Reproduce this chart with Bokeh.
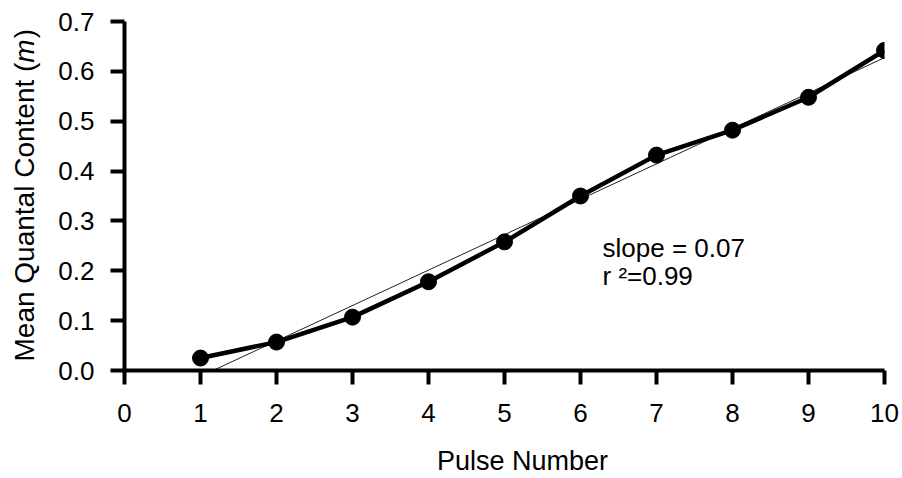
import numpy as np
from math import pi
from bokeh.plotting import figure
from bokeh.layouts import row, column
from bokeh.models import Range1d, FixedTicker, Label, ColumnDataSource
from bokeh.core.properties import value
from bokeh.embed import file_html
from bokeh.resources import INLINE

# ---- data ----
pulse_number = [1, 2, 3, 4, 5, 6, 7, 8, 9, 10]
mean_quantal = [0.025, 0.057, 0.107, 0.178, 0.258, 0.350, 0.432, 0.482, 0.548, 0.642]
x_ticks = [0, 1, 2, 3, 4, 5, 6, 7, 8, 9, 10]
y_ticks = [0.0, 0.1, 0.2, 0.3, 0.4, 0.5, 0.6, 0.7]
y_tick_labels = ["0.0", "0.1", "0.2", "0.3", "0.4", "0.5", "0.6", "0.7"]
x_title = "Pulse Number"
y_title_parts = ["Mean Quantal Content (", "m", ")"]
slope_text = "slope = 0.07"
r2_text = "r \u00b2=0.99"

FONT = "Liberation Sans"

# ---- layout (pixels) ----
LW = 46                       # width of left label strip
FW, FH = 760, 349             # frame size
ML, MR, MT, MB = 124 - LW, 16, 21, 75
MAIN_W = ML + FW + MR
MAIN_H = MT + FH + MB
BOT_H = 30
TOTAL_W = LW + MAIN_W
TOTAL_H = MAIN_H + BOT_H

p = figure(title=None, width=MAIN_W, height=MAIN_H,
           frame_width=FW, frame_height=FH,
           min_border_left=ML, min_border_right=MR, min_border_top=MT, min_border_bottom=MB,
           x_range=Range1d(0, 10), y_range=Range1d(0, 0.7),
           output_backend="svg", toolbar_location=None)
p.outline_line_color = None
p.xgrid.visible = False
p.ygrid.visible = False

for ax in (p.xaxis[0], p.yaxis[0]):
    ax.axis_line_width = 4
    ax.axis_line_color = "black"
    ax.major_tick_line_width = 4
    ax.major_tick_line_color = "black"
    ax.major_tick_out = 14
    ax.major_tick_in = 0
    ax.minor_tick_line_color = None
    ax.major_label_text_font = FONT
    ax.major_label_text_font_size = "26px"
    ax.major_label_text_color = "black"

p.xaxis.ticker = FixedTicker(ticks=x_ticks)
p.yaxis.ticker = FixedTicker(ticks=y_ticks)
p.yaxis.major_label_overrides = {t: l for t, l in zip(y_ticks, y_tick_labels)}
p.xaxis.major_label_standoff = 19
p.yaxis.major_label_standoff = 16

# regression line
slope, intercept = np.polyfit(pulse_number, mean_quantal, 1)
x0 = -intercept / slope
x1 = max(pulse_number)
p.line([x0, x1], [slope * x0 + intercept, slope * x1 + intercept],
       line_color="#222222", line_width=1)

# data
src = ColumnDataSource(dict(x=pulse_number, y=mean_quantal))
p.line("x", "y", source=src, line_color="black", line_width=4.5)
p.scatter("x", "y", source=src, size=16, marker="circle",
          fill_color="black", line_color="black")

# page pixel -> data helpers for the annotation positions
def dx(px):
    return (px - 124) * 10 / FW

def dy(py):
    return (MT + FH - py) * 0.7 / FH

p.add_layout(Label(x=dx(602), y=dy(247), text=slope_text, text_font=FONT,
                   text_font_size="26px", text_baseline="alphabetic", text_align="left",
                   text_color="black"))
p.add_layout(Label(x=dx(602), y=dy(275), text=r2_text, text_font=FONT,
                   text_font_size="26px", text_baseline="alphabetic", text_align="left",
                   text_color="black"))

# ---- left strip with rotated y title ----
pl = figure(title=None, width=LW, height=MAIN_H, frame_width=LW, frame_height=MAIN_H,
            x_range=Range1d(0, LW), y_range=Range1d(0, MAIN_H),
            x_axis_location=None, y_axis_location=None,
            min_border=0, output_backend="svg", toolbar_location=None)
pl.grid.visible = False
pl.outline_line_color = None

fs = 28
w1 = 10.672 * fs
wm = 0.833 * fs
ybot = 362 - 22   # compensates the observed downward shift of rotated text
ypos = [MAIN_H - ybot, MAIN_H - (ybot - w1), MAIN_H - (ybot - w1 - wm - 1)]
styles = ["normal", "italic", "normal"]
for part, yy, st in zip(y_title_parts, ypos, styles):
    pl.text(x=[24], y=[yy], text=[part], angle=pi / 2,
            text_align="left", text_baseline="middle",
            text_font=value(FONT), text_font_size=value(f"{fs}px"),
            text_font_style=value(st), text_color="black")

# ---- bottom strip with x title ----
pb = figure(title=None, width=TOTAL_W, height=BOT_H, frame_width=TOTAL_W, frame_height=BOT_H,
            x_range=Range1d(0, TOTAL_W), y_range=Range1d(0, BOT_H),
            x_axis_location=None, y_axis_location=None,
            min_border=0, output_backend="svg", toolbar_location=None)
pb.grid.visible = False
pb.outline_line_color = None
pb.text(x=[522], y=[TOTAL_H - 460], text=[x_title],
        text_align="center", text_baseline="middle",
        text_font=value(FONT), text_font_size=value("27px"), text_color="black")

layout = column(row(pl, p, spacing=0), pb, spacing=0)
open("out.html", "w").write(file_html(layout, INLINE))
